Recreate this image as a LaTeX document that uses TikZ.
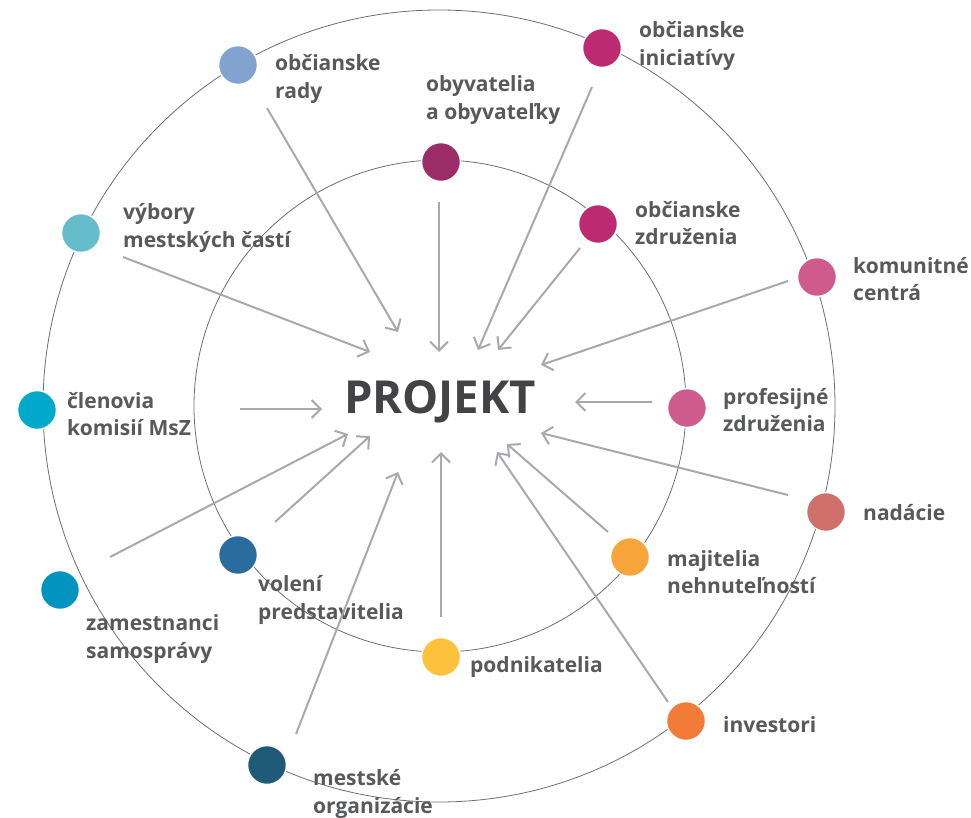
\documentclass[tikz,border=0pt]{standalone}
\usepackage{fontspec}
\setmainfont{Open Sans}
\usetikzlibrary{arrows.meta}
\definecolor{txtgray}{HTML}{58595B}
\definecolor{projgray}{HTML}{434345}
\definecolor{ringgray}{HTML}{6E6E6E}
\definecolor{arrgray}{HTML}{A7A9AC}
\definecolor{cRady}{HTML}{82A3CF}
\definecolor{cObyv}{HTML}{9B2C68}
\definecolor{cVybory}{HTML}{65BDCB}
\definecolor{cClen}{HTML}{00A9C9}
\definecolor{cInic}{HTML}{BC2A72}
\definecolor{cZdruz}{HTML}{BC2A72}
\definecolor{cKomun}{HTML}{CF5A8C}
\definecolor{cProf}{HTML}{CF5A8C}
\definecolor{cNad}{HTML}{D0706A}
\definecolor{cMaj}{HTML}{F7A43A}
\definecolor{cInv}{HTML}{F27B38}
\definecolor{cPodn}{HTML}{FDC23B}
\definecolor{cVol}{HTML}{2A6C9E}
\definecolor{cZam}{HTML}{0094BE}
\definecolor{cMest}{HTML}{1F5A78}
\begin{document}
\begin{tikzpicture}[x=1pt,y=-1pt,
  ring/.style={draw=ringgray, line width=0.8pt},
  dot/.style={circle, minimum size=39pt, inner sep=0pt, draw=white, line width=1.5pt},
  lbl/.style={anchor=west, align=left, inner sep=0pt, text=txtgray,
    font=\fontsize{21}{27.5}\selectfont\bfseries},
  arr/.style={draw=arrgray, line width=2pt, -{Straight Barb[length=9pt,width=18pt]}}]
\useasboundingbox (0,0) rectangle (971,818);
% rings
\node[ring, circle, minimum size=792pt, inner sep=0pt] (outer) at (439,406) {};
\node[ring, circle, minimum size=492pt, inner sep=0pt] (inner) at (440,406) {};
% centre
\node[font=\fontsize{45.5}{52}\selectfont\bfseries, text=projgray, inner sep=0pt] (proj) at (440,402) {PROJEKT};
% dots
\node[dot, fill=cRady] (dRady) at (238,65) {};
\node[dot, fill=cObyv] (dObyv) at (441,162) {};
\node[dot, fill=cVybory] (dVyb) at (81,233) {};
\node[dot, fill=cClen] (dClen) at (37,410) {};
\node[dot, fill=cInic] (dInic) at (602,48) {};
\node[dot, fill=cZdruz] (dZdr) at (598,224) {};
\node[dot, fill=cKomun] (dKom) at (817,277) {};
\node[dot, fill=cProf] (dProf) at (687,408) {};
\node[dot, fill=cNad] (dNad) at (826,512) {};
\node[dot, fill=cMaj] (dMaj) at (630,557) {};
\node[dot, fill=cInv] (dInv) at (686,721) {};
\node[dot, fill=cPodn] (dPodn) at (441,657) {};
\node[dot, fill=cVol] (dVol) at (238,555) {};
\node[dot, fill=cZam] (dZam) at (60,590) {};
\node[dot, fill=cMest] (dMest) at (267,765) {};
% labels
\node[lbl] (lRady) at (275,79) {občianske\\rady};
\node[lbl] (lObyv) at (426,100) {obyvatelia\\a obyvateľky};
\node[lbl] (lVyb) at (123,228) {výbory\\mestských častí};
\node[lbl] (lClen) at (67,414) {členovia\\komisií MsZ};
\node[lbl] (lInic) at (639,46) {občianske\\iniciatívy};
\node[lbl] (lZdr) at (635,223) {občianske\\združenia};
\node[lbl] (lKom) at (853,279) {komunitné\\centrá};
\node[lbl] (lProf) at (723,410) {profesijné\\združenia};
\node[lbl] (lNad) at (863,513) {nadácie};
\node[lbl] (lMaj) at (667,572) {majitelia\\nehnuteľností};
\node[lbl] (lInv) at (723,725) {investori};
\node[lbl] (lPodn) at (470,667) {podnikatelia};
\node[lbl] (lVol) at (258,600) {volení\\predstavitelia};
\node[lbl] (lZam) at (86,639) {zamestnanci\\samosprávy};
\node[lbl] (lMest) at (313,794) {mestské\\organizácie};
% arrow end points
\coordinate (sRady) at (267,108);  \coordinate (eRady) at (398,332);
\coordinate (sObyv) at (439,202);  \coordinate (eObyv) at (439,352);
\coordinate (sVyb) at (123,257);   \coordinate (eVyb) at (370,352);
\coordinate (sInic) at (592,87);   \coordinate (eInic) at (478,350);
\coordinate (sZdr) at (580,248);   \coordinate (eZdr) at (498,350);
\coordinate (sKom) at (788,281);   \coordinate (eKom) at (541,365);
\coordinate (sProf) at (652,402);  \coordinate (eProf) at (575,402);
\coordinate (sNad) at (788,495);   \coordinate (eNad) at (541,433);
\coordinate (sMaj) at (608,532);   \coordinate (eMaj) at (507,444);
\coordinate (sInv) at (668,702);   \coordinate (eInv) at (497,452);
\coordinate (sPodn) at (441,617);  \coordinate (ePodn) at (441,452);
\coordinate (sMest) at (296,734);  \coordinate (eMest) at (398,472);
\coordinate (sVol) at (275,522);   \coordinate (eVol) at (370,436);
\coordinate (sZam) at (110,557);   \coordinate (eZam) at (348,434);
\coordinate (sClen) at (240,409);  \coordinate (eClen) at (322,409);
% arrows
\foreach \n in {Rady,Obyv,Vyb,Inic,Zdr,Kom,Prof,Nad,Maj,Inv,Podn,Mest,Vol,Zam,Clen}
  \draw[arr] (s\n) -- (e\n);
\end{tikzpicture}
\end{document}
